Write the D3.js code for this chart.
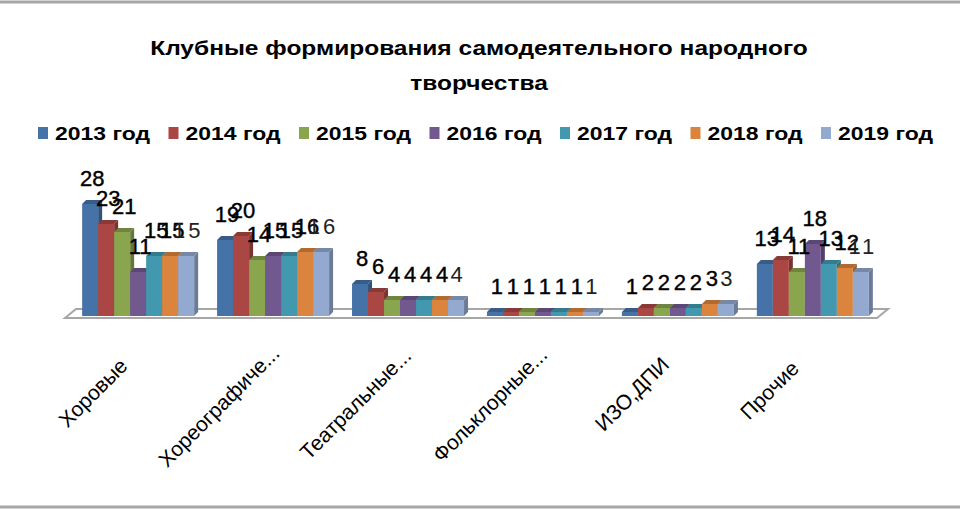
<!DOCTYPE html>
<html>

<head>
    <meta charset="utf-8">
    <style>
        body {
            margin: 0;
            background: #fff;
        }

        svg {
            font-family: 'Liberation Sans', Arial, sans-serif;
        }

        .title {
            font-size: 20px;
            font-weight: bold;
            fill: #000;
        }

        .legend text {
            font-size: 19px;
            font-weight: bold;
            fill: #000;
        }

        .value {
            font-size: 22px;
            fill: #000;
            stroke: #000;
            stroke-width: 0.4px;
        }

        .cat {
            font-size: 21px;
            fill: #000;
        }
    </style>
</head>

<body>
    <svg width="960" height="510"></svg>
</body>

<script src="https://d3js.org/d3.v7.min.js"></script>

<script>
    let width = 960;
    let height = 510;

    // data
    let categories = ["Хоровые", "Хореографиче...", "Театральные...", "Фольклорные...", "ИЗО,ДПИ", "Прочие"]
    let years = ["2013 год", "2014 год", "2015 год", "2016 год", "2017 год", "2018 год", "2019 год"]

    let v2013 = [28, 19, 8, 1, 1, 13]
    let v2014 = [23, 20, 6, 1, 2, 14]
    let v2015 = [21, 14, 4, 1, 2, 11]
    let v2016 = [11, 15, 4, 1, 2, 18]
    let v2017 = [15, 15, 4, 1, 2, 13]
    let v2018 = [15, 16, 4, 1, 3, 12]
    let v2019 = [15, 16, 4, 1, 3, 11]

    let seriesValues = [v2013, v2014, v2015, v2016, v2017, v2018, v2019]

    let colors = ["#4572A7", "#AA4643", "#89A54E", "#71588F", "#4198AF", "#DB843D", "#93A9CF"]

    let svg = d3.select("svg")

    // frame lines top and bottom
    svg.append("line")
        .attr("x1", 0).attr("x2", width)
        .attr("y1", 2).attr("y2", 2)
        .attr("stroke", "#a6a6a6")
        .attr("stroke-width", 3)

    svg.append("line")
        .attr("x1", 0).attr("x2", width)
        .attr("y1", 507).attr("y2", 507)
        .attr("stroke", "#a6a6a6")
        .attr("stroke-width", 3)

    // title, stretched a bit to look like the original
    let titleG = svg.append("g")
    let t1 = titleG.append("text")
        .attr("class", "title")
        .attr("text-anchor", "middle")
        .attr("y", 55)
        .text("Клубные формирования самодеятельного народного")
    titleG.append("text")
        .attr("class", "title")
        .attr("text-anchor", "middle")
        .attr("y", 90)
        .text("творчества")
    let sx = 658 / t1.node().getComputedTextLength()
    titleG.attr("transform", `translate(479,0) scale(${sx},1)`)

    let data = categories.map((c, i) => {
        let row = { category: c }
        years.forEach((y, j) => row[y] = seriesValues[j][i])
        return row
    })

    let color = d3.scaleOrdinal()
        .domain(years)
        .range(colors)

    let x = d3.scaleBand()
        .domain(categories)
        .range([70, 881])
        .paddingInner(0.17)
        .paddingOuter(0.09)

    let xInner = d3.scaleBand()
        .domain(years)
        .range([0, x.bandwidth()])

    let y = d3.scaleLinear()
        .domain([0, 30])
        .range([316, 196])

    let depth = 4

    // floor
    let r = x.range()
    let floorPts = [[r[0] - 5, 318], [r[1] - 4, 318], [r[1] + 7, 309], [r[0] + 6, 309]]
    svg.append("path")
        .attr("d", "M" + floorPts.join("L") + "Z")
        .attr("fill", "#fff")
        .attr("stroke", "#a6a6a6")
        .attr("stroke-width", 2)

    // 3d bars
    let groups = svg.append("g")
        .selectAll("g")
        .data(data)
        .join("g")
        .attr("transform", d => `translate(${x(d.category)},0)`)

    let bars = groups.selectAll("g")
        .data(d => years.map(k => ({ key: k, value: d[k] })))
        .join("g")

    let w = xInner.bandwidth()
    let base = y(0)

    bars.append("path")
        .attr("fill", d => d3.color(color(d.key)).darker(0.6))
        .attr("d", d => {
            let x0 = xInner(d.key), y0 = y(d.value)
            return `M${x0},${y0}L${x0 + depth},${y0 - depth}L${x0 + w + depth},${y0 - depth}L${x0 + w},${y0}Z`
        })

    bars.append("path")
        .attr("fill", d => d3.color(color(d.key)).darker(0.9))
        .attr("d", d => {
            let x0 = xInner(d.key) + w, y0 = y(d.value)
            return `M${x0},${y0}L${x0 + depth},${y0 - depth}L${x0 + depth},${base - depth}L${x0},${base}Z`
        })

    bars.append("rect")
        .attr("x", d => xInner(d.key))
        .attr("y", d => y(d.value))
        .attr("width", w)
        .attr("height", d => base - y(d.value))
        .attr("fill", d => color(d.key))

    // value labels (last series is drawn lighter and wider, like the original)
    groups.selectAll("text")
        .data(d => years.map(k => ({ key: k, value: d[k] })))
        .join("text")
        .attr("class", "value")
        .attr("text-anchor", "middle")
        .attr("x", d => xInner(d.key) + w / 2 + 2)
        .attr("y", d => y(d.value) - 18)
        .style("letter-spacing", d => d.key == "2019 год" ? "3px" : null)
        .style("fill", d => d.key == "2019 год" ? "#222" : null)
        .style("stroke-width", d => d.key == "2019 год" ? 0 : null)
        .text(d => d.value)

    // category labels, rotated
    svg.append("g")
        .selectAll("text")
        .data(categories)
        .join("text")
        .attr("class", "cat")
        .attr("text-anchor", "end")
        .text(d => d)
        .attr("transform", function (d) {
            let len = this.getComputedTextLength()
            let cx = x(d) + x.bandwidth() / 2 - 9 + 0.23 * (len - 88)
            let cy = 367 - 0.17 * (len - 88)
            return `translate(${cx},${cy}) rotate(-45)`
        })

    // legend
    let legendX = d3.scalePoint()
        .domain(years)
        .range([38, 821])

    let legend = svg.append("g")
        .attr("class", "legend")
        .selectAll("g")
        .data(years)
        .join("g")
        .attr("transform", d => `translate(${legendX(d)},127)`)

    legend.append("rect")
        .attr("width", 10)
        .attr("height", 12)
        .attr("fill", d => color(d))

    legend.append("text")
        .attr("x", 17)
        .attr("y", 13)
        .attr("textLength", 95)
        .attr("lengthAdjust", "spacingAndGlyphs")
        .text(d => d)

</script>

</html>
